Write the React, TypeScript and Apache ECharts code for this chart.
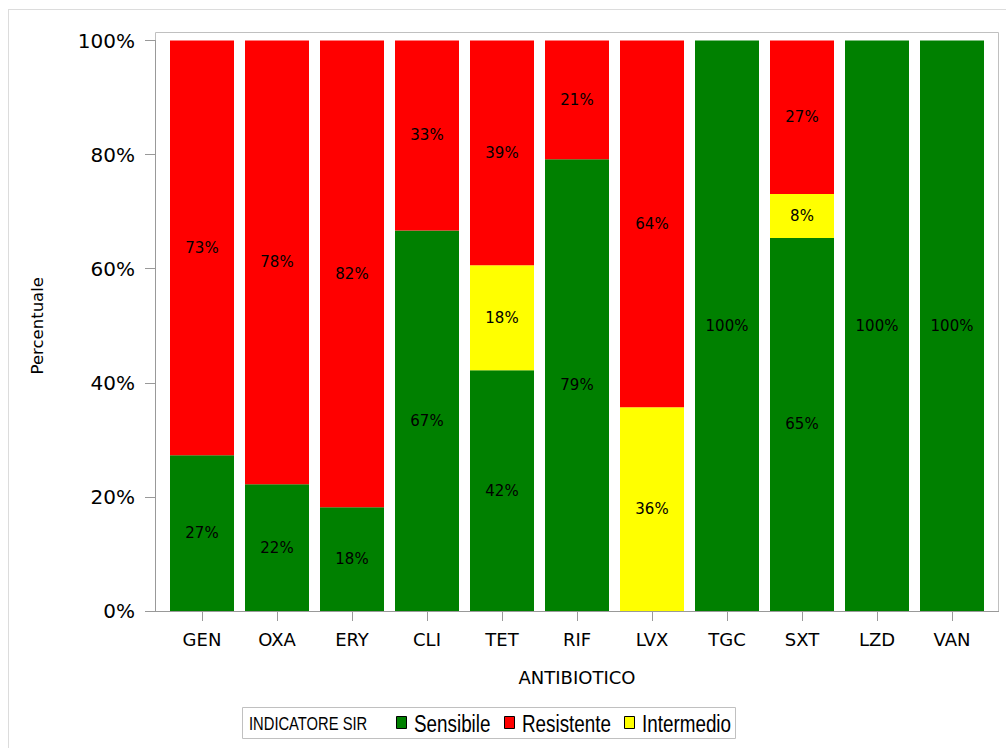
import React, { useEffect, useRef } from "react";
import * as echarts from "echarts";

const categories = ["GEN", "OXA", "ERY", "CLI", "TET", "RIF", "LVX", "TGC", "SXT", "LZD", "VAN"];
const sensibile = [27.3, 22.2, 18.2, 66.7, 42.2, 79.2, null, 100, 65.4, 100, 100];
const intermedio = [null, null, null, null, 18.4, null, 35.7, null, 7.7, null, null];
const resistente = [72.7, 77.8, 81.8, 33.3, 39.4, 20.8, 64.3, null, 26.9, null, null];
const yTicks = [0, 20, 40, 60, 80, 100];
const legendNames = ["Sensibile", "Resistente", "Intermedio"];
const legendColors = ["#008000", "#ff0000", "#ffff00"];
const legendTitle = "INDICATORE SIR";

const FONT = "'DejaVu Sans', Verdana, sans-serif";
const NARROW = "'Liberation Sans', Arial, sans-serif";

export default function App() {
  const ref = useRef<HTMLDivElement>(null);
  useEffect(() => {
    if (!ref.current) return;
    const chart = echarts.init(ref.current, null, { renderer: "svg" });
    const label = {
      show: true,
      position: "inside",
      color: "#000",
      fontSize: 15,
      fontFamily: FONT,
      formatter: (p: any) => (p.value == null ? "" : Math.round(p.value) + "%"),
    };
    const mk = (name: string, data: (number | null)[], color: string) => ({
      name,
      type: "bar",
      stack: "sir",
      data,
      barWidth: 64,
      itemStyle: { color },
      label,
    });
    const legendMarkerX = [396, 504, 624];
    const legendGraphics: any[] = [];
    legendNames.forEach((n, i) => {
      legendGraphics.push({
        type: "rect",
        shape: { x: legendMarkerX[i] + 0.5, y: 716.5, width: 10, height: 12 },
        style: { fill: legendColors[i], stroke: "#000", lineWidth: 1 },
        silent: true,
      });
      legendGraphics.push({
        type: "text",
        x: legendMarkerX[i] + 18,
        y: 724,
        scaleX: 0.82,
        style: { text: n, fontSize: 23, fontFamily: NARROW, fill: "#000", verticalAlign: "middle", align: "left" },
        silent: true,
      });
    });
    chart.setOption({
      animation: false,
      backgroundColor: "#fff",
      grid: { left: 164.5, right: 16.5, top: 40.5, bottom: 137 },
      xAxis: {
        type: "category",
        data: categories,
        name: "ANTIBIOTICO",
        nameLocation: "middle",
        nameGap: 57,
        nameTextStyle: { fontSize: 18, fontFamily: FONT, color: "#000" },
        axisLine: { show: false },
        axisTick: { show: true, alignWithLabel: true, length: 10, lineStyle: { color: "#999" } },
        axisLabel: { fontSize: 18, fontFamily: FONT, color: "#000", margin: 19 },
      },
      yAxis: {
        type: "value",
        min: 0,
        max: 100,
        interval: 20,
        offset: 9.5,
        name: "Percentuale",
        nameLocation: "middle",
        nameGap: 109,
        nameTextStyle: { fontSize: 16.5, fontFamily: FONT, color: "#000" },
        axisLine: { show: true, lineStyle: { color: "#999" } },
        axisTick: { show: true, length: 10, lineStyle: { color: "#999" } },
        splitLine: { show: false },
        axisLabel: {
          fontSize: 20,
          fontFamily: FONT,
          color: "#000",
          margin: 20,
          formatter: (v: number) => (yTicks.includes(v) ? v + "%" : ""),
        },
      },
      graphic: [
        { type: "line", shape: { x1: 8, y1: 9.5, x2: 1006, y2: 9.5 }, style: { stroke: "#dcdcdc", lineWidth: 1 }, silent: true },
        { type: "line", shape: { x1: 8.5, y1: 9, x2: 8.5, y2: 748 }, style: { stroke: "#dcdcdc", lineWidth: 1 }, silent: true },
        { type: "rect", shape: { x: 155.5, y: 32.5, width: 843, height: 579 }, style: { fill: "none", stroke: "#c0c0c0", lineWidth: 1 }, silent: true, z: -1 },
        { type: "line", shape: { x1: 155, y1: 611.5, x2: 999, y2: 611.5 }, style: { stroke: "#999", lineWidth: 1 }, silent: true },
        { type: "rect", shape: { x: 242.5, y: 707.5, width: 493, height: 31 }, style: { fill: "none", stroke: "#c0c0c0", lineWidth: 1 }, silent: true },
        { type: "text", x: 249, y: 723, scaleX: 0.82, style: { text: legendTitle, fontSize: 18, fontFamily: NARROW, fill: "#000", verticalAlign: "middle", align: "left" }, silent: true },
        ...legendGraphics,
      ],
      series: [
        mk("Sensibile", sensibile, "#008000"),
        mk("Intermedio", intermedio, "#ffff00"),
        mk("Resistente", resistente, "#ff0000"),
      ],
    });
    return () => chart.dispose();
  }, []);
  return <div ref={ref} style={{ position: "fixed", left: 0, top: 0, width: 1006, height: 748 }} />;
}
